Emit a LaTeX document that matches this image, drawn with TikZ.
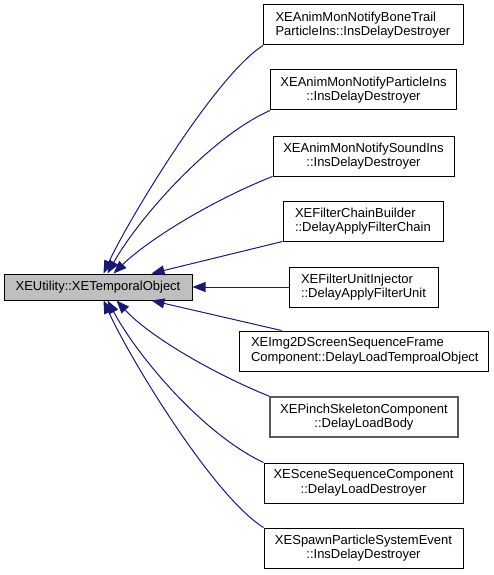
\documentclass[tikz,border=0pt]{standalone}
\usepackage{fontspec}
\setmainfont{Liberation Sans}
\usetikzlibrary{arrows.meta}
\definecolor{edgeblue}{RGB}{25,25,112}
\definecolor{mainfill}{RGB}{191,191,191}
\begin{document}
\begin{tikzpicture}[x=1pt,y=-1pt,
  box/.style={draw=black, line width=1pt, fill=white, inner sep=0pt, minimum height=40pt, font=\fontsize{13}{14.5}\selectfont},
  lbox/.style={box, align=left},
  cbox/.style={box, align=center},
  hlbox/.style={draw=black!65, line width=1.6pt},
  mainbox/.style={draw=black, line width=1pt, fill=mainfill, inner sep=0pt, minimum width=188pt, minimum height=26pt, font=\fontsize{13}{14.5}\selectfont},
  edge/.style={draw=edgeblue, line width=1pt, -{Triangle[length=13pt,width=10pt]}}
]
\useasboundingbox (0,0) rectangle (493,575);
\node[mainbox] (m) at (98,287) {XEUtility::XETemporalObject};
\node[lbox, minimum width=200pt, text width=176pt] (b1) at (363.5,25) {XEAnimMonNotifyBoneTrail\\ParticleIns::InsDelayDestroyer};
\node[cbox, minimum width=186pt] (b2) at (363.5,90) {XEAnimMonNotifyParticleIns\\::InsDelayDestroyer};
\node[cbox, minimum width=181pt] (b3) at (363.5,156) {XEAnimMonNotifySoundIns\\::InsDelayDestroyer};
\node[lbox, minimum width=160pt, text width=136pt] (b4) at (363,221) {XEFilterChainBuilder\\::DelayApplyFilterChain};
\node[lbox, minimum width=149pt, text width=125pt] (b5) at (363.5,287) {XEFilterUnitInjector\\::DelayApplyFilterUnit};
\node[lbox, minimum width=249pt, text width=225pt] (b6) at (363.5,351) {XEImg2DScreenSequenceFrame\\Component::DelayLoadTemproalObject};
\node[cbox, hlbox, minimum width=188pt] (b7) at (364,417) {XEPinchSkeletonComponent\\::DelayLoadBody};
\node[cbox, minimum width=199pt] (b8) at (363.5,483) {XESceneSequenceComponent\\::DelayLoadDestroyer};
\node[cbox, minimum width=199pt] (b9) at (363.5,548) {XESpawnParticleSystemEvent\\::InsDelayDestroyer};

\draw[edge] (b1.south west) .. controls (215,76) and (129,219) .. ([xshift=100pt]m.north west);
\draw[edge] (b2.south west) .. controls (210,137) and (138,219) .. ([xshift=104pt]m.north west);
\draw[edge] (b3.south west) .. controls (213,200) and (149,239) .. ([xshift=110pt]m.north west);
\draw[edge] (b4.south west) -- ([xshift=148pt]m.north west);
\draw[edge] (b5.west) -- (m.east);
\draw[edge] ([xshift=43pt]b6.north west) -- ([xshift=148pt]m.south west);
\draw[edge] (b7.north west) .. controls (212,373) and (149,336) .. ([xshift=113pt]m.south west);
\draw[edge] (b8.north west) .. controls (203,434) and (138,357) .. ([xshift=104pt]m.south west);
\draw[edge] (b9.north west) .. controls (213,496) and (129,357) .. ([xshift=100pt]m.south west);
\end{tikzpicture}
\end{document}
